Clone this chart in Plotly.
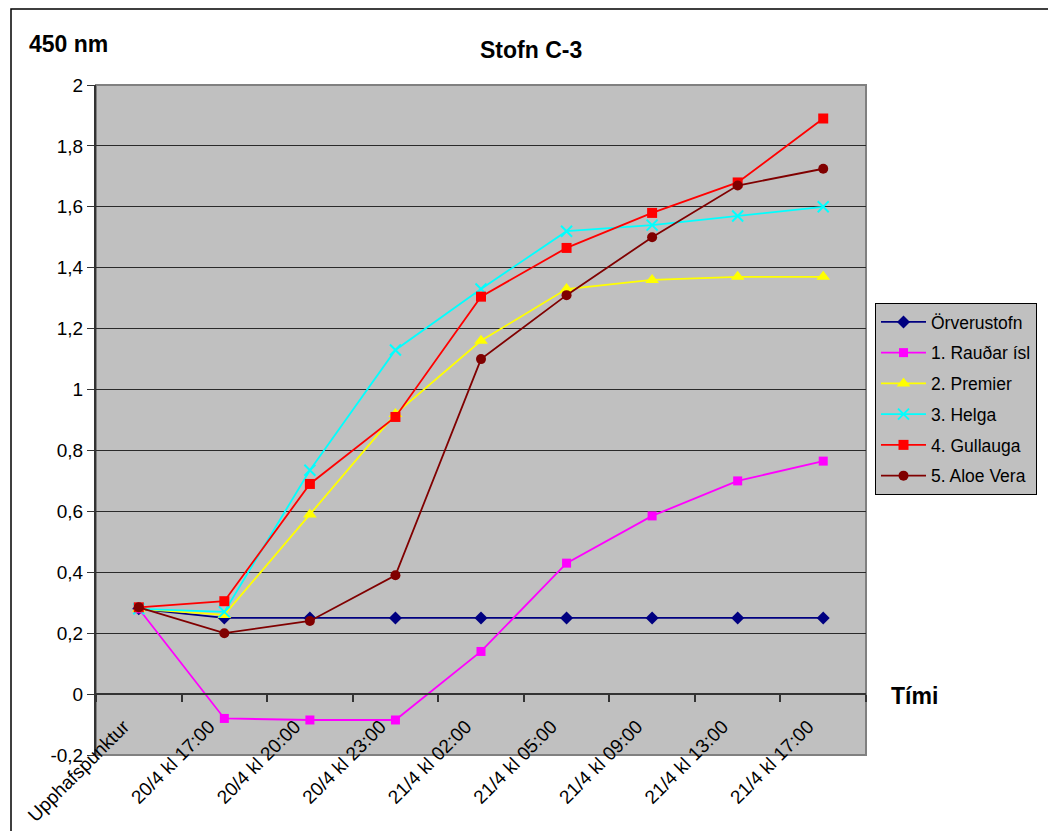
import plotly.graph_objects as go

categories = ["Upphafspunktur", "20/4 kl 17:00", "20/4 kl 20:00", "20/4 kl 23:00",
              "21/4 kl 02:00", "21/4 kl 05:00", "21/4 kl 09:00", "21/4 kl 13:00", "21/4 kl 17:00"]

orverustofn = [0.28, 0.25, 0.25, 0.25, 0.25, 0.25, 0.25, 0.25, 0.25]
raudar_isl = [0.28, -0.08, -0.085, -0.085, 0.14, 0.43, 0.585, 0.70, 0.765]
premier = [0.28, 0.26, 0.59, 0.92, 1.16, 1.33, 1.36, 1.37, 1.37]
helga = [0.28, 0.27, 0.735, 1.13, 1.33, 1.52, 1.54, 1.57, 1.60]
gullauga = [0.285, 0.305, 0.69, 0.91, 1.305, 1.465, 1.58, 1.68, 1.89]
aloe_vera = [0.285, 0.20, 0.24, 0.39, 1.10, 1.31, 1.50, 1.67, 1.725]

series_names = ["Örverustofn", "1. Rauðar ísl", "2. Premier", "3. Helga", "4. Gullauga", "5. Aloe Vera"]

y_tickvals = [-0.2, 0, 0.2, 0.4, 0.6, 0.8, 1.0, 1.2, 1.4, 1.6, 1.8, 2.0]
y_ticktext = ["-0,2", "0", "0,2", "0,4", "0,6", "0,8", "1", "1,2", "1,4", "1,6", "1,8", "2"]

series = [orverustofn, raudar_isl, premier, helga, gullauga, aloe_vera]
colors = ["#000080", "#FF00FF", "#FFFF00", "#00FFFF", "#FF0000", "#800000"]
symbols = ["diamond", "square", "triangle-up", "x-thin-open", "square", "circle"]
sizes = [10, 9, 12, 11, 10, 10]

fig = go.Figure()
for name, vals, c, s, sz in zip(series_names, series, colors, symbols, sizes):
    marker = dict(color=c, symbol=s, size=sz)
    if s == "x-thin-open":
        marker["line"] = dict(color=c, width=2)
    else:
        marker["line"] = dict(width=0)
    fig.add_trace(go.Scatter(
        x=categories, y=vals, name=name, mode="lines+markers",
        line=dict(color=c, width=1.8), marker=marker, legendgroup=name,
    ))

FONT = "Liberation Sans, Arial, sans-serif"
y_zero_pos = (0 - (-0.2)) / 2.2

fig.update_layout(
    width=1048, height=831,
    margin=dict(l=96, r=182, t=85, b=76, autoexpand=False),
    paper_bgcolor="white",
    plot_bgcolor="#C0C0C0",
    separators=", ",
    font=dict(family=FONT, color="black"),
    showlegend=True,
    legend=dict(
        x=(875 - 96) / 770, y=(755 - 303) / 670, xanchor="left", yanchor="top",
        bgcolor="#C0C0C0", bordercolor="black", borderwidth=1,
        font=dict(size=17.5, family=FONT), tracegroupgap=5, itemwidth=45,
    ),
    xaxis=dict(
        type="category", anchor="free", position=y_zero_pos,
        showline=True, linecolor="#333333", linewidth=2,
        ticks="outside", ticklen=7, tickcolor="#333333", tickwidth=1.5,
        tickson="boundaries", tickangle=-45, showgrid=False,
        tickfont=dict(size=19, family=FONT),
        ticklabelstandoff=13, ticklabelshift=-15,
        range=[-0.5, 8.5],
    ),
    yaxis=dict(
        range=[-0.2, 2.0], tickvals=y_tickvals, ticktext=y_ticktext,
        showline=True, linecolor="#333333", linewidth=2,
        ticks="outside", ticklen=7, tickcolor="#333333",
        showgrid=True, gridcolor="#2a2a2a", gridwidth=1.2, zeroline=False,
        tickfont=dict(size=19, family=FONT),
    ),
    shapes=[
        dict(type="rect", xref="paper", yref="paper", x0=0, x1=1, y0=0, y1=1,
             line=dict(color="#808080", width=2), layer="below"),
        dict(type="rect", xref="paper", yref="paper",
             x0=(11 - 96) / 770, x1=(1100 - 96) / 770,
             y0=-0.5, y1=1 + (85 - 9) / 670,
             line=dict(color="black", width=1.5), layer="below"),
    ],
    annotations=[
        dict(text="<b>Stofn C-3</b>", xref="paper", yref="paper",
             x=(531 - 96) / 770, y=1 + (85 - 50) / 670, showarrow=False,
             font=dict(size=23, family=FONT), xanchor="center", yanchor="middle"),
        dict(text="<b>450 nm</b>", xref="paper", yref="paper",
             x=(27 - 96) / 770, y=1 + (85 - 44) / 670, showarrow=False,
             font=dict(size=23, family=FONT), xanchor="left", yanchor="middle"),
        dict(text="<b>Tími</b>", xref="paper", yref="paper",
             x=(889 - 96) / 770, y=(755 - 696) / 670, showarrow=False,
             font=dict(size=23, family=FONT), xanchor="left", yanchor="middle"),
    ],
)

fig.write_html("out.html", config={"displayModeBar": False},
               post_script="document.body.style.margin='0';")
